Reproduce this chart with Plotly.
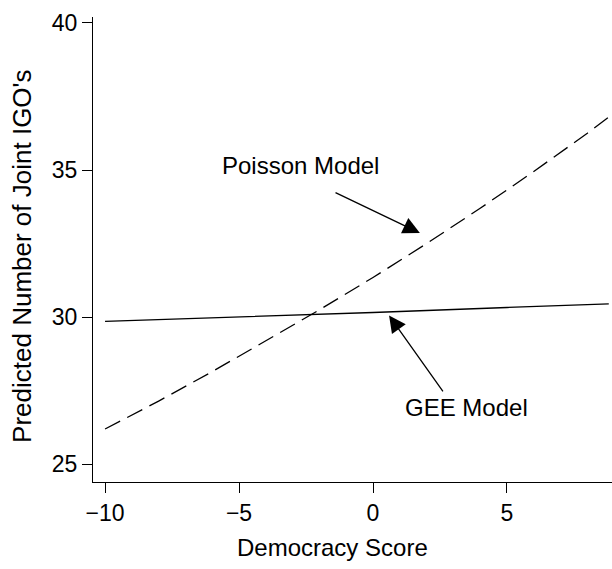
import plotly.graph_objects as go

# Data
democracy = [-10, -8, -6, -4, -2, 0, 2, 4, 6, 8, 8.8]
poisson_pred = [26.2, 27.15, 28.15, 29.2, 30.25, 31.35, 32.5, 33.7, 34.95, 36.25, 36.8]
gee_x = [-10, -5, 0, 5, 8.8]
gee_pred = [29.86, 30.0, 30.16, 30.33, 30.45]

x_ticks = [-10, -5, 0, 5]
x_tick_text = ["\u221210", "\u22125", "0", "5"]
y_ticks = [25, 30, 35, 40]
x_title = "Democracy Score"
y_title = "Predicted Number of Joint IGO's"

FONT = "Liberation Sans, Arial, Helvetica, sans-serif"

fig = go.Figure()
fig.add_trace(go.Scatter(x=democracy, y=poisson_pred, mode="lines",
                         line=dict(color="black", width=1.3, dash="17px,8px"),
                         showlegend=False, hoverinfo="skip"))
fig.add_trace(go.Scatter(x=gee_x, y=gee_pred, mode="lines",
                         line=dict(color="black", width=1.3),
                         showlegend=False, hoverinfo="skip"))

axis_common = dict(showline=True, linecolor="black", linewidth=1.2, ticks="outside",
                   ticklen=10, tickwidth=1.2, tickcolor="black", showgrid=False,
                   zeroline=False, tickfont=dict(family=FONT, size=23, color="black"))

fig.update_xaxes(range=[-10.45, 8.92], tickvals=x_ticks, ticktext=x_tick_text,
                 **axis_common)
fig.update_yaxes(range=[24.4, 40.2], tickvals=y_ticks, **axis_common)

annots = [
    dict(text=x_title, xref="paper", yref="paper", x=0.462, y=-0.14,
         xanchor="center", yanchor="middle", showarrow=False,
         font=dict(family=FONT, size=24, color="black")),
    dict(text=y_title, xref="paper", yref="paper", x=-0.137, y=0.486,
         xanchor="center", yanchor="middle", showarrow=False, textangle=-90,
         font=dict(family=FONT, size=26, color="black")),
    dict(text="Poisson Model", x=-2.72, y=35.15, xref="x", yref="y",
         showarrow=False, xanchor="center", yanchor="middle",
         font=dict(family=FONT, size=24, color="black")),
    dict(text="GEE Model", x=3.5, y=26.92, xref="x", yref="y",
         showarrow=False, xanchor="center", yanchor="middle",
         font=dict(family=FONT, size=24, color="black")),
    dict(text="", x=1.75, y=32.86, ax=-1.455, ay=34.26, xref="x", yref="y",
         axref="x", ayref="y", showarrow=True, arrowhead=2, arrowsize=2.6,
         arrowwidth=1.3, arrowcolor="black"),
    dict(text="", x=0.6, y=30.06, ax=2.65, ay=27.43, xref="x", yref="y",
         axref="x", ayref="y", showarrow=True, arrowhead=2, arrowsize=2.6,
         arrowwidth=1.3, arrowcolor="black"),
]
fig.update_layout(annotations=annots, width=612, height=569,
                  margin=dict(l=93, r=0, t=17, b=87),
                  plot_bgcolor="white", paper_bgcolor="white",
                  font=dict(family=FONT, color="black"))

fig.write_html("out.html")
